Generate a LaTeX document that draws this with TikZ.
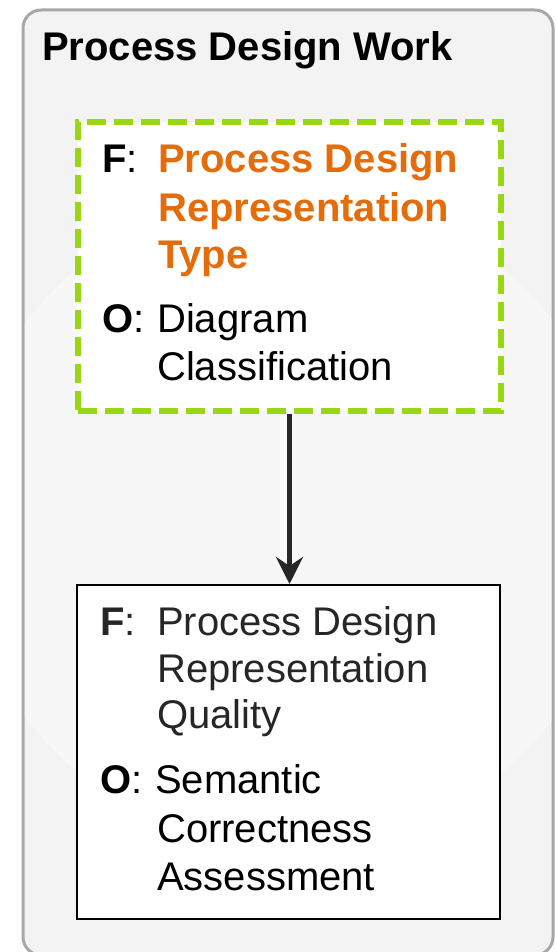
\documentclass[tikz,border=0pt]{standalone}
\usepackage{fontspec}
\setmainfont{Liberation Sans}
\usetikzlibrary{arrows.meta}
\definecolor{outerfill}{HTML}{F3F3F3}
\definecolor{outerline}{HTML}{A8A8A8}
\definecolor{greenline}{RGB}{153,214,20}
\definecolor{orangetxt}{RGB}{228,108,10}
\definecolor{darktxt}{HTML}{262626}
\definecolor{arrowcol}{HTML}{262626}
\tikzset{
  txt/.style={anchor=base west, inner sep=0pt, font=\fontsize{40}{48}\selectfont},
  otxt/.style={txt, text=orangetxt, font=\fontsize{40}{48}\selectfont\bfseries},
  greenbox/.style={draw=greenline, line width=5.5pt, dash pattern=on 19pt off 8pt, fill=white, minimum width=423pt, minimum height=289pt, inner sep=0pt},
  blackbox/.style={draw=black, line width=2pt, fill=white, minimum width=423pt, minimum height=334pt, inner sep=0pt},
  conn/.style={draw=arrowcol, line width=4.5pt, -{Stealth[length=27pt,width=27pt,inset=9pt]}}
}
\begin{document}
\begin{tikzpicture}[x=1pt,y=-1pt]
\useasboundingbox (0,0) rectangle (556,952);
\begin{scope}
\clip (0,0) rectangle (556,952);
\draw[line width=3pt, draw=outerline, fill=outerfill, rounded corners=18pt] (23,10) rectangle (553,955);
\clip[rounded corners=18pt] (24.5,11.5) rectangle (551.5,953);
\fill[white, opacity=0.35] (290,520) ellipse [x radius=330pt, y radius=330pt];
\end{scope}
\node[txt, font=\fontsize{40}{48}\selectfont\bfseries] (title) at (42,61) {Process Design Work};
% top box
\node[greenbox] (g) at (289.5,266.5) {};
\node[txt] (gf) at (102,173) {\textbf{F}:};
\node[otxt] (gf1) at (158,173) {Process Design};
\node[otxt] (gf2) at (158,221) {Representation};
\node[otxt] (gf3) at (158,268) {Type};
\node[txt] (go) at (102,332) {\textbf{O}:};
\node[txt] (go1) at (157,332) {Diagram};
\node[txt] (go2) at (157,380) {Classification};
% bottom box
\node[blackbox] (b) at (288.5,752) {};
\node[txt, text=darktxt] (bf) at (100,635) {\textbf{F}:};
\node[txt, text=darktxt] (bf1) at (157,635) {Process Design};
\node[txt, text=darktxt] (bf2) at (157,682) {Representation};
\node[txt, text=darktxt] (bf3) at (157,728) {Quality};
\node[txt] (bo) at (100,793) {\textbf{O}:};
\node[txt] (bo1) at (155,793) {Semantic};
\node[txt] (bo2) at (157,842) {Correctness};
\node[txt] (bo3) at (157,890) {Assessment};
% connector
\draw[conn] (g.south) -- (g.south |- b.north);
\end{tikzpicture}
\end{document}
